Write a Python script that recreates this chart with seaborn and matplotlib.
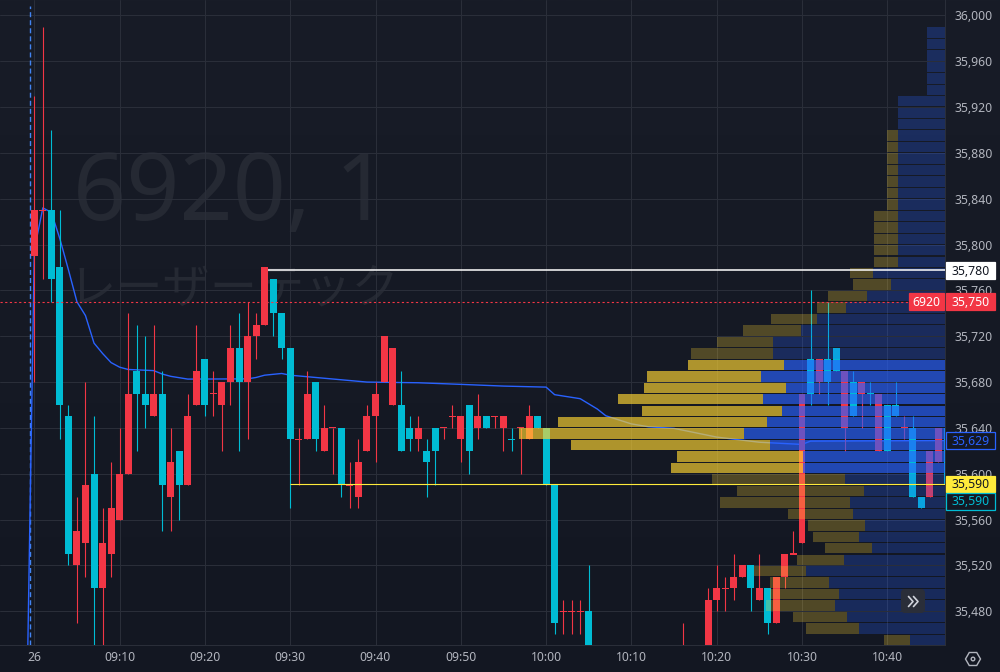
import numpy as np
import pandas as pd
import matplotlib
matplotlib.use("Agg")
import matplotlib.pyplot as plt
from matplotlib.patches import FancyBboxPatch, Rectangle, RegularPolygon, Circle
from matplotlib.transforms import IdentityTransform, blended_transform_factory
import seaborn as sns

# candles: minutes after 09:00
candle_idx = list(range(0, 66)) + [76] + list(range(79, 108))
opens = [35790, 35830, 35830, 35780, 35650, 35520, 35540, 35600, 35500, 35530, 35560, 35600, 35690, 35670, 35650,
         35670, 35580, 35620, 35590, 35660, 35700, 35670, 35660, 35680, 35710, 35680, 35720, 35730, 35770, 35740,
         35710, 35630, 35630, 35680, 35620, 35640, 35640, 35590, 35580, 35620, 35650, 35680, 35710, 35660, 35630,
         35640, 35620, 35620, 35640, 35650, 35650, 35620, 35650, 35640, 35650, 35650, 35630, 35640, 35630, 35650,
         35640, 35590, 35480, 35480, 35480, 35480,
         35440,
         35440, 35490, 35500, 35500, 35510, 35520, 35490, 35500, 35470, 35510, 35530, 35540, 35670, 35700, 35680,
         35710, 35690, 35650, 35680, 35670, 35670, 35620, 35660, 35640, 35640, 35580, 35580, 35610, 35640]
closes = [35830, 35830, 35770, 35660, 35530, 35550, 35590, 35500, 35540, 35570, 35600, 35670, 35670, 35660, 35670,
          35590, 35610, 35590, 35650, 35690, 35660, 35670, 35680, 35710, 35680, 35720, 35730, 35780, 35740, 35710,
          35630, 35630, 35670, 35630, 35640, 35640, 35590, 35590, 35610, 35650, 35670, 35720, 35660, 35620, 35640,
          35630, 35610, 35640, 35640, 35650, 35630, 35660, 35640, 35650, 35650, 35640, 35630, 35640, 35650, 35640,
          35590, 35470, 35480, 35480, 35480, 35450,
          35440,
          35490, 35500, 35500, 35510, 35520, 35500, 35500, 35470, 35510, 35530, 35530, 35670, 35700, 35680, 35700,
          35690, 35640, 35680, 35670, 35670, 35620, 35660, 35650, 35640, 35580, 35570, 35620, 35640, 35590]
highs = [35930, 35990, 35900, 35830, 35660, 35580, 35680, 35650, 35570, 35610, 35640, 35740, 35730, 35720, 35730,
         35690, 35640, 35620, 35670, 35730, 35700, 35690, 35680, 35730, 35740, 35750, 35740, 35780, 35770, 35740,
         35710, 35640, 35690, 35680, 35660, 35640, 35640, 35610, 35630, 35660, 35680, 35720, 35710, 35690, 35650,
         35650, 35630, 35640, 35640, 35660, 35650, 35660, 35670, 35650, 35650, 35650, 35640, 35640, 35660, 35650,
         35640, 35590, 35490, 35490, 35490, 35520,
         35470,
         35500, 35520, 35510, 35530, 35520, 35520, 35530, 35500, 35510, 35530, 35550, 35670, 35760, 35700, 35750,
         35710, 35690, 35690, 35680, 35680, 35670, 35660, 35680, 35650, 35650, 35580, 35620, 35640, 35640]
lows = [35680, 35770, 35750, 35630, 35520, 35470, 35510, 35450, 35450, 35510, 35560, 35600, 35620, 35640, 35650,
        35550, 35550, 35560, 35590, 35660, 35650, 35650, 35620, 35660, 35620, 35630, 35700, 35730, 35720, 35700,
        35570, 35590, 35630, 35620, 35620, 35600, 35580, 35570, 35570, 35620, 35610, 35680, 35660, 35620, 35620,
        35620, 35580, 35590, 35630, 35640, 35610, 35600, 35630, 35640, 35640, 35620, 35620, 35600, 35630, 35640,
        35590, 35460, 35460, 35460, 35460, 35450,
        35440,
        35440, 35480, 35480, 35490, 35510, 35480, 35490, 35460, 35470, 35500, 35530, 35540, 35660, 35670, 35660,
        35690, 35620, 35650, 35640, 35660, 35620, 35620, 35650, 35630, 35580, 35570, 35580, 35610, 35590]
up_candle = [True] * 2 + [False] * 3 + [True] * 2 + [False] + [True] * 4 + [False] * 2 + [True] + [False] + [True] + \
            [False] + [True] * 2 + [False] + [True] * 3 + [False] + [True] * 3 + [False] * 3 + [True] * 2 + [False] + \
            [True] * 2 + [False] + [True] * 6 + [False] * 2 + [True] + [False] * 2 + [True] * 3 + [False] + [True] + \
            [False] + [True] * 2 + [False] + [True] * 2 + [False] * 3 + [True] * 3 + [False] + \
            [True] + \
            [True] * 5 + [False] + [True] + [False] + [True] * 4 + [False] + [True] + [False] * 2 + [True] + \
            [False] + [True] + [False] + [True] + [False] * 2 + [True] + [False] * 2 + [True] * 2 + [False]

# volume weighted average line
vwap_idx = [-1, 0, 1, 2, 3, 4, 5, 6, 7, 8, 9, 10, 11, 14, 15, 16, 18, 25, 26, 27, 29, 30, 33, 36, 39, 45, 50, 55, 60,
            61, 64, 65, 66, 67, 70, 72, 75, 80, 85, 90, 91, 107]
vwap_val = [35340, 35795, 35832, 35828, 35805, 35778, 35750, 35738, 35714, 35705, 35697, 35693, 35691, 35690, 35687,
            35685, 35682.6, 35682.8, 35684, 35686, 35687.5, 35686, 35684, 35682, 35680, 35679.4, 35678, 35676.5,
            35675.6, 35669, 35665.5, 35661, 35656.5, 35650.6, 35643.5, 35641, 35639.6, 35632, 35627.5, 35625.6,
            35628.5, 35629]

# volume profile, rows of 10 yen, lower edge of the row
row_price = [35980, 35970, 35960, 35950, 35940, 35930, 35920, 35910, 35900, 35890, 35880, 35870, 35860, 35850, 35840,
             35830, 35820, 35810, 35800, 35790, 35780, 35770, 35760, 35750, 35740, 35730, 35720, 35710, 35700, 35690,
             35680, 35670, 35660, 35650, 35640, 35630, 35620, 35610, 35600, 35590, 35580, 35570, 35560, 35550, 35540,
             35530, 35520, 35510, 35500, 35490, 35480, 35470, 35460, 35450]
row_down = [18, 18, 18, 18, 18, 18, 47, 47, 47, 47, 47, 47, 47, 47, 47,
            47, 47, 47, 47, 47, 47, 72, 54, 78, 99, 128, 144, 172, 172, 161,
            184, 159, 182, 163, 178, 201, 175, 142, 142, 100, 81, 95, 92, 80, 86,
            73, 101, 139, 116, 106, 110, 98, 86, 35]
row_up = [0, 0, 0, 0, 0, 0, 0, 0, 0, 11, 11, 11, 11, 11, 11,
          11, 24, 24, 24, 24, 24, 23, 38, 39, 29, 46, 58, 56, 82, 96,
          114, 142, 145, 140, 209, 225, 199, 126, 132, 133, 127, 130, 65, 57, 46,
          47, 47, 52, 59, 69, 69, 54, 53, 26]
value_area = [35600, 35690]

y_ticks = [36000, 35960, 35920, 35880, 35840, 35800, 35760, 35720, 35680, 35640, 35600, 35560, 35520, 35480]
x_ticks = [0, 10, 20, 30, 40, 50, 60, 70, 80, 90, 100]
x_labels = ["26", "09:10", "09:20", "09:30", "09:40", "09:50", "10:00", "10:10", "10:20", "10:30", "10:40"]

high_line = 35777.5
low_line = 35591
last_price = 35750

W, H = 1000, 672
RED = "#f23645"
CYAN = "#00bcd4"
BLUE = "#2962ff"
GOLD = "#ffd532"
GRID = "#2a2e39"
TXT = "#b2b5be"

sns.set_theme(style="dark")
plt.rcParams["font.family"] = ["Noto Sans", "Noto Sans CJK JP", "DejaVu Sans"]

fig = plt.figure(figsize=(W / 100, H / 100), dpi=100)

# background gets a little darker to the bottom
bg = fig.add_axes([0, 0, 1, 1], zorder=-5)
top_c = np.array([24, 28, 39]) / 255
bot_c = np.array([19, 23, 34]) / 255
grad = np.linspace(0, 1, 256)[:, None, None] * (bot_c - top_c)[None, None, :] + top_c[None, None, :]
bg.imshow(grad, aspect="auto", extent=(0, 1, 0, 1))
bg.axis("off")

ax = fig.add_axes([0, (H - 645) / H, 945 / W, 645 / H])
ax.patch.set_visible(False)

ax.set_xlim(-34.3 / 8.53, (945 - 34.3) / 8.53)
ax.set_ylim(35450.6, 36013.35)
ax.set_yticks(y_ticks)
ax.set_yticklabels([f"{v:,}" for v in y_ticks])
ax.yaxis.tick_right()
ax.set_xticks(x_ticks)
ax.set_xticklabels(x_labels)
ax.tick_params(axis="y", length=0, pad=6.5, labelsize=8.8, labelcolor=TXT, left=False, right=False)
ax.tick_params(axis="x", length=0, pad=4.2, labelsize=8.8, labelcolor=TXT, bottom=False)
ax.get_xticklabels()[0].set_fontweight("bold")
ax.grid(True, color=GRID, linewidth=0.72)
ax.set_axisbelow(True)
for name, sp in ax.spines.items():
    sp.set_visible(name in ("bottom", "right"))
    sp.set_color(GRID)
    sp.set_linewidth(0.72)

# watermark sits behind the chart axes
wm = "#252933"
fig.text(73 / W, 1 - 220.5 / H, "6920, 1", fontsize=67, color=wm, family=["Noto Sans"], zorder=-1)
fig.text(69 / W, 1 - 302 / H, "レーザーテック", fontsize=34, color=wm, family=["Noto Sans CJK JP"], zorder=-1)

# session break
ax.vlines(-0.47, 35450.6, 36008, color="#4285f4", linewidth=1, linestyles=(0, (3.6, 2.2)), zorder=2)

# vwap
sns.lineplot(x=vwap_idx, y=vwap_val, color=BLUE, linewidth=1, ax=ax, zorder=2.2, errorbar=None, sort=False)

# candles
for i, o, h, l, c, up in zip(candle_idx, opens, highs, lows, closes, up_candle):
    col = RED if up else CYAN
    ax.vlines(i, l, h, color=col, linewidth=0.8, zorder=3)
    ax.bar(i, max(abs(c - o), 1), bottom=min(o, c) - (0.5 if o == c else 0), width=0.82, color=col,
           linewidth=0, zorder=3.1)
ax.set_xlim(-34.3 / 8.53, (945 - 34.3) / 8.53)
ax.set_ylim(35450.6, 36013.35)

# volume profile on its own x axis, grows from the right edge
axp = ax.twiny()
axp.patch.set_visible(False)
prof = pd.DataFrame({"price": np.array(row_price) + 5.0, "down": row_down, "up": row_up}).sort_values("price")
bright = prof["price"].between(value_area[0], value_area[1] + 10)
for mask, alpha in ((bright, 0.66), (~bright, 0.26)):
    sub = prof[mask]
    sns.barplot(data=sub, x="down", y="price", orient="y", native_scale=True, color=BLUE, saturation=1,
                alpha=alpha, width=0.91, linewidth=0, errorbar=None, ax=axp)
    sns.barplot(data=sub, x="up", y="price", orient="y", native_scale=True, color=GOLD, saturation=1,
                alpha=alpha, width=0.91, linewidth=0, errorbar=None, left=sub["down"].values, ax=axp)
axp.set_xlim(945, 0)
axp.set_ylim(35450.6, 36013.35)
axp.set_xlabel("")
axp.set_ylabel("")
axp.xaxis.set_visible(False)
axp.tick_params(left=False, right=False, labelleft=False, labelright=False)
axp.grid(False)
for sp in axp.spines.values():
    sp.set_visible(False)

# level lines, drawn above the profile
axp.hlines(high_line, 945 - 268, 0, color="white", linewidth=1.1, zorder=5)
axp.hlines(low_line, 945 - 290, 0, color="#ffeb3b", linewidth=0.8, zorder=5)
axp.hlines(last_price, 945, 0, color=RED, linewidth=0.8, linestyles=(0, (2, 2.2)), zorder=5)

# price labels on the scale
tr = blended_transform_factory(fig.transFigure, ax.transData)
def price_label(x0, x1, y, text, face, edge, color, weight="normal"):
    h = 14.6
    axp.add_patch(Rectangle((x0 / W, y - h / 2), (x1 - x0) / W, h, transform=tr, facecolor=face, edgecolor=edge,
                            linewidth=0.9, clip_on=False, zorder=8))
    axp.text((x0 + x1) / 2 / W, y - 0.6, text, transform=tr, ha="center", va="center", color=color, fontsize=8.8,
             fontweight=weight, clip_on=False, zorder=9)

price_label(945.5, 995, 35777.3, "35,780", "white", "white", "#131722")
price_label(945.5, 995, 35750, "35,750", RED, RED, "white", "bold")
price_label(909, 943.5, 35750, "6920", RED, RED, "white", "bold")
price_label(945.5, 995, 35629, "35,629", "#141824", BLUE, BLUE)
price_label(945.5, 995, 35591, "35,590", "#ffeb3b", "#ffeb3b", "#131722")
price_label(945.5, 995, 35576, "35,590", "#141824", CYAN, CYAN)

# scroll button and settings icon
px = IdentityTransform()
fig.add_artist(FancyBboxPatch((904, H - 610), 18, 18, boxstyle="round,pad=3,rounding_size=4", transform=px,
                              facecolor="#2a2e39", edgecolor="none", zorder=10))
for off in (0, 5):
    fig.add_artist(plt.Line2D([908.5 + off, 913 + off, 908.5 + off], [H - 596.5, H - 601.5, H - 606.5],
                              transform=px, color="#d1d4dc", linewidth=1.2, zorder=11))
fig.add_artist(RegularPolygon((973, H - 659), 6, radius=7.5, transform=px, orientation=np.pi / 6,
                              facecolor="none", edgecolor=TXT, linewidth=1, zorder=10))
fig.add_artist(Circle((973, H - 659), 1.8, transform=px, facecolor="none", edgecolor=TXT, linewidth=1, zorder=10))

fig.savefig("out.png", dpi=100)
